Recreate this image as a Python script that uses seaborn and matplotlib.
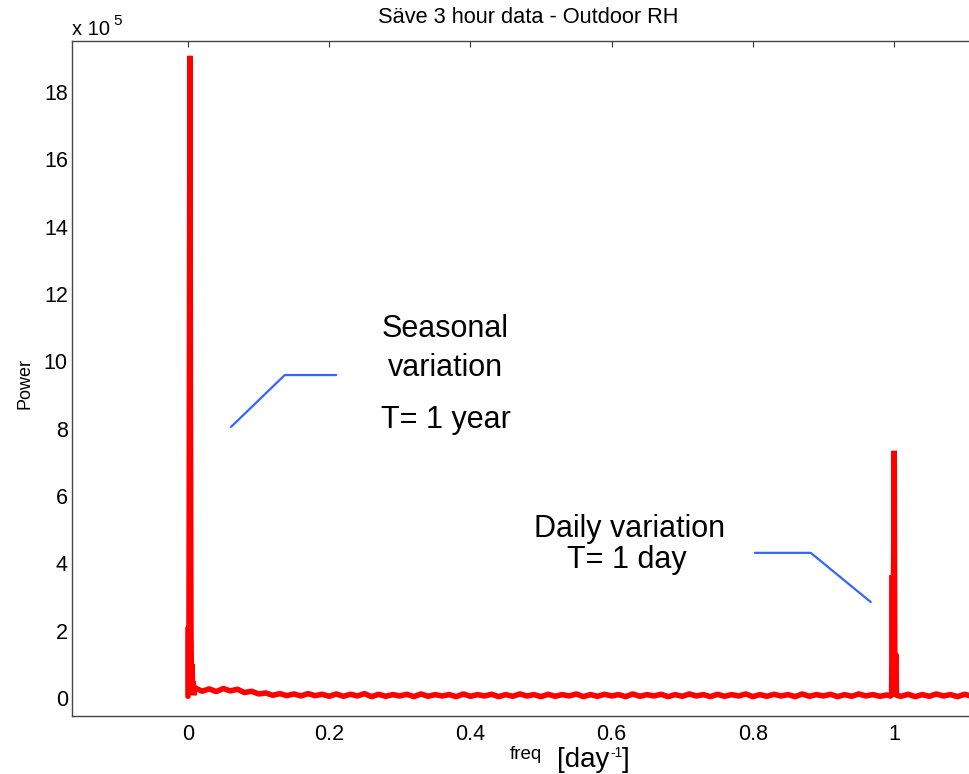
import numpy as np
import pandas as pd
import matplotlib
matplotlib.use("Agg")
import matplotlib.pyplot as plt
import seaborn as sns

# ---------------- data (power in units of 1e5) ----------------
title = "Säve 3 hour data - Outdoor RH"
x_ticks = [0, 0.2, 0.4, 0.6, 0.8, 1]
x_tick_labels = ["0", "0.2", "0.4", "0.6", "0.8", "1"]
y_ticks = [0, 2, 4, 6, 8, 10, 12, 14, 16, 18]

seasonal_freq = [0.0, 0.0, 0.0014, 0.0028, 0.0034, 0.0042, 0.0050,
                 0.0058, 0.0066, 0.0074, 0.0082, 0.0090]
seasonal_power = [0.05, 2.1, 2.1, 19.07, 9.5, 1.9, 0.10,
                  1.0, 0.10, 0.5, 0.08, 0.3]

floor_lo_power = [
    0.30, 0.20, 0.27, 0.19, 0.28, 0.21, 0.26, 0.16, 0.20, 0.12,
    0.15, 0.08, 0.13, 0.07, 0.12, 0.06, 0.13, 0.07, 0.11, 0.05,
    0.12, 0.05, 0.11, 0.06, 0.13, 0.04, 0.11, 0.05, 0.10, 0.06,
    0.11, 0.04, 0.12, 0.05, 0.10, 0.06, 0.10, 0.04, 0.12, 0.05,
    0.10, 0.06, 0.11, 0.04, 0.10, 0.05, 0.12, 0.06, 0.10, 0.04,
    0.11, 0.05, 0.10, 0.06, 0.12, 0.04, 0.10, 0.05, 0.11, 0.06,
    0.10, 0.04, 0.12, 0.05, 0.10, 0.06, 0.11, 0.04, 0.10, 0.05,
    0.12, 0.06, 0.10, 0.04, 0.11, 0.05, 0.10, 0.06, 0.12, 0.04,
    0.10, 0.05, 0.11, 0.06, 0.10, 0.04, 0.12, 0.05, 0.10, 0.06,
    0.11, 0.04, 0.10, 0.05, 0.12, 0.06, 0.10, 0.05, 0.09,
]
floor_lo_freq = np.round(np.linspace(0.01, 0.99, len(floor_lo_power)), 4)

daily_freq = [0.9966, 0.9970, 0.9976, 0.9985, 1.0003,
              1.0012, 1.0020, 1.0028, 1.0034]
daily_power = [0.05, 1.3, 3.65, 0.05, 7.34,
               0.05, 1.3, 1.3, 0.08]

floor_hi_power = [0.05, 0.11, 0.04, 0.10, 0.05, 0.12, 0.06, 0.10, 0.04, 0.11, 0.05]
floor_hi_freq = np.round(np.linspace(1.01, 1.11, len(floor_hi_power)), 4)

# annotation leader lines (data coords)
season_line_x = [0.061, 0.137, 0.210]
season_line_y = [8.05, 9.59, 9.59]
daily_line_x = [0.803, 0.882, 0.967]
daily_line_y = [4.31, 4.31, 2.85]

# ---------------- figure ----------------
sns.set_theme(style="white")
plt.rcParams["font.family"] = ["Liberation Sans", "DejaVu Sans"]
plt.rcParams["text.color"] = "black"
plt.rcParams["axes.labelcolor"] = "black"

fig = plt.figure(figsize=(9.70, 7.74), dpi=100)
fig.patch.set_facecolor("white")
ax = fig.add_axes([72 / 970, 1 - 716 / 774, 0.93, 675 / 774])

df = pd.DataFrame({
    "freq": np.concatenate([seasonal_freq, floor_lo_freq, daily_freq, floor_hi_freq]),
    "power": np.concatenate([seasonal_power, floor_lo_power, daily_power, floor_hi_power]),
})
sns.lineplot(data=df, x="freq", y="power", ax=ax, color="#FF0000",
             linewidth=4.0, estimator=None, sort=False, solid_joinstyle="bevel")

ax.plot(season_line_x, season_line_y, color="#3366FF", lw=1.6)
ax.plot(daily_line_x, daily_line_y, color="#3366FF", lw=1.6)

ax.set_xlim(-0.1643, 1.1134)
ax.set_ylim(-0.535, 19.51)
ax.set_xticks(x_ticks)
ax.set_xticklabels(x_tick_labels)
ax.set_yticks(y_ticks)
ax.set_xlabel("")
ax.set_ylabel("")
ax.tick_params(direction="in", length=4.5, width=0.8, color="#333333",
               labelsize=15.5, labelcolor="black", top=True, right=False)
ax.tick_params(axis="x", pad=6)
ax.tick_params(axis="y", pad=3)
for s in ax.spines.values():
    s.set_color("#444444")
    s.set_linewidth(1.0)

# annotation texts
kw = dict(fontsize=22, ha="center", va="baseline", color="black")
ax.text(0.364, 10.72, "Seasonal", **kw)
ax.text(0.364, 9.56, "variation", **kw)
ax.text(0.366, 8.02, "T= 1 year", **kw)
ax.text(0.626, 4.78, "Daily variation", **kw)
ax.text(0.622, 3.86, "T= 1 day", **kw)

# title and labels
fig.text(528 / 970, 1 - 23 / 774, title, fontsize=15.7, ha="center", va="baseline")
fig.text(72 / 970, 1 - 35 / 774, "x 10", fontsize=14.5, ha="left", va="baseline")
fig.text(113 / 970, 1 - 25 / 774, "5", fontsize=11, ha="left", va="baseline")
fig.text(34 / 970, 1 - 383 / 774, "Power", fontsize=13, rotation=90,
         ha="right", va="center")
fig.text(510 / 970, 1 - 759 / 774, "freq", fontsize=13.5, ha="left", va="baseline")
fig.text(557 / 970, 1 - 767 / 774, "[day", fontsize=20, ha="left", va="baseline")
fig.text(610 / 970, 1 - 757 / 774, "-1", fontsize=10, ha="left", va="baseline")
fig.text(622 / 970, 1 - 767 / 774, "]", fontsize=20, ha="left", va="baseline")

fig.savefig("out.png", dpi=100, facecolor="white")
